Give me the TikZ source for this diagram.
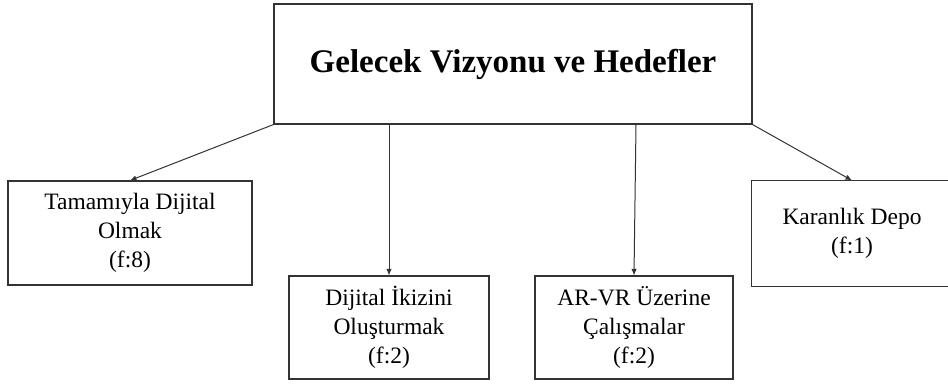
\documentclass[tikz,border=0pt]{standalone}
\usepackage{fontspec}
\setmainfont{Liberation Serif}
\usetikzlibrary{arrows.meta}

\tikzset{
  box/.style={draw=black!80, line width=1.1pt, rectangle, inner sep=0pt,
    align=center, text=black, font=\fontsize{23.5}{29}\selectfont},
  titlebox/.style={box, font=\fontsize{33}{38}\selectfont\bfseries},
  edge/.style={draw=black!80, line width=1.1pt},
  arr/.style={draw=black!80, line width=1pt, -{Latex[length=6.5pt,width=5.5pt]}}
}

\begin{document}
\begin{tikzpicture}[x=1pt, y=-1pt]
  \useasboundingbox (0,0) rectangle (948,385);
  \clip (0,0) rectangle (948,385);

  % main goal
  \node[titlebox, minimum width=478pt, minimum height=120pt] (top) at (513,64)
    {Gelecek Vizyonu ve Hedefler};

  % sub-goals
  \node[box, minimum width=244pt, minimum height=104pt] (left) at (130,233)
    {Tamamıyla Dijital\\Olmak\\(f:8)};
  \node[box, minimum width=200pt, minimum height=103pt] (twin) at (389,327.5)
    {Dijital İkizini\\Oluşturmak\\(f:2)};
  \node[box, minimum width=198pt, minimum height=103pt] (arvr) at (634,327.5)
    {AR-VR Üzerine\\Çalışmalar\\(f:2)};

  % last box: cut off by the right edge of the page, so its right side is not drawn
  \node[box, draw=none, minimum width=200pt, minimum height=105pt] (dark) at (852,233.5)
    {Karanlık Depo\\(f:1)};
  \draw[edge] ([xshift=20pt]dark.north east) -- (dark.north west)
    -- (dark.south west) -- ([xshift=20pt]dark.south east);

  % connectors
  \draw[arr] (top.south west) -- (left.north);
  \draw[arr] (top.south -| twin.north) -- (twin.north);
  \draw[arr] ([xshift=2pt]top.south -| arvr.north) -- (arvr.north);
  \draw[arr] (top.south east) -- (dark.north);
\end{tikzpicture}
\end{document}
